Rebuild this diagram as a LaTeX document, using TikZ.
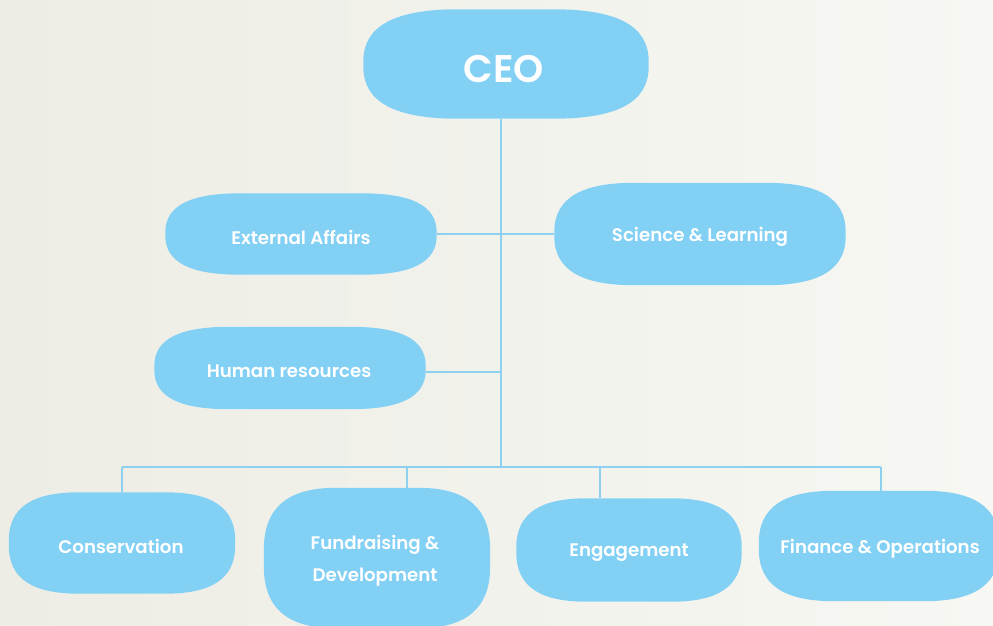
\documentclass[tikz,border=0pt]{standalone}
\usepackage{fontspec}
\setmainfont{Poppins}[BoldFont={Poppins SemiBold}]
\usetikzlibrary{calc}
\definecolor{blobc}{HTML}{83D0F5}
\definecolor{linec}{HTML}{8DD0EF}
\definecolor{bgl}{HTML}{EDEDE5}
\definecolor{bgr}{HTML}{F7F7F3}
\pgfdeclarelayer{back}\pgfdeclarelayer{blobs}\pgfsetlayers{back,blobs,main}
\newcommand\myblob[3]{%
 \begin{pgfonlayer}{blobs}
 \fill[blobc] ($(#1.north west)+(#2pt,0pt)$) -- ($(#1.north east)+(-#2pt,0pt)$)
 .. controls ($(#1.north east)+(-0.35*#2pt,0pt)$) and ($(#1.north east)+(0pt,-0.3*#3pt)$) .. ($(#1.north east)+(0pt,-#3pt)$)
 -- ($(#1.south east)+(0pt,#3pt)$)
 .. controls ($(#1.south east)+(0pt,0.3*#3pt)$) and ($(#1.south east)+(-0.35*#2pt,0pt)$) .. ($(#1.south east)+(-#2pt,0pt)$)
 -- ($(#1.south west)+(#2pt,0pt)$)
 .. controls ($(#1.south west)+(0.35*#2pt,0pt)$) and ($(#1.south west)+(0pt,0.3*#3pt)$) .. ($(#1.south west)+(0pt,#3pt)$)
 -- ($(#1.north west)+(0pt,-#3pt)$)
 .. controls ($(#1.north west)+(0pt,-0.3*#3pt)$) and ($(#1.north west)+(0.35*#2pt,0pt)$) .. cycle;
 \end{pgfonlayer}}
\begin{document}
\begin{tikzpicture}[x=1pt,y=-1pt,
  box/.style={inner sep=0pt},
  lbl/.style={text=white, inner sep=0pt, align=center, font=\bfseries\fontsize{18.2}{32}\selectfont},
  conn/.style={draw=linec, line width=1.1pt}]
\begin{pgfonlayer}{back}
\shade[left color=bgl, right color=bgr] (0,0) rectangle (993,626);
\end{pgfonlayer}
\useasboundingbox (0,0) rectangle (993,626);
\clip (0,0) rectangle (993,626);
\node[box, minimum width=285pt, minimum height=109pt] (ceo) at (506,64) {};
\node[box, minimum width=271pt, minimum height=81pt] (ext) at (301,234) {};
\node[box, minimum width=291pt, minimum height=102pt] (sci) at (700,234) {};
\node[box, minimum width=271pt, minimum height=82pt] (hr) at (290,368) {};
\node[box, minimum width=226pt, minimum height=101pt] (cons) at (122,543) {};
\node[box, minimum width=226pt, minimum height=140pt] (fund) at (377,558) {};
\node[box, minimum width=225pt, minimum height=103pt] (eng) at (629,550) {};
\node[box, minimum width=240pt, minimum height=110pt] (fin) at (879,546) {};
\node[lbl, font=\bfseries\fontsize{38.5}{42}\selectfont] (ceoL) at (504,69) {CEO};
\node[lbl] (extL) at (301,237) {External Affairs};
\node[lbl] (sciL) at (700,237) {Science \& Learning};
\node[lbl] (hrL) at (289,371) {Human resources};
\node[lbl] (consL) at (121,546) {Conservation};
\node[lbl] (fundL) at (375,561) {Fundraising \&\\Development};
\node[lbl] (engL) at (629,553) {Engagement};
\node[lbl] (finL) at (880,549) {Finance \& Operations};
\myblob{ceo}{95}{52}
\myblob{ext}{75}{39}
\myblob{sci}{80}{49}
\myblob{hr}{75}{39}
\myblob{cons}{70}{48}
\myblob{fund}{72}{62}
\myblob{eng}{70}{49}
\myblob{fin}{75}{52}
\coordinate (j1) at (501,467);
\coordinate (hrj) at (501,372);
\coordinate (bl) at (122,467);
\coordinate (br) at (881,467);
\coordinate (fd) at (407,467);
\coordinate (ed) at (600,467);
\draw[conn] (ceo.south -| j1) -- (j1);
\draw[conn] (ext.east) -- (sci.west);
\draw[conn] (hrj -| hr.east) -- (hrj);
\draw[conn] (bl) -- (br);
\draw[conn] (bl) -- (cons.north);
\draw[conn] (fd) -- (fd |- fund.north);
\draw[conn] (ed) -- (ed |- eng.north);
\draw[conn] (br) -- (br |- fin.north);
\end{tikzpicture}
\end{document}
